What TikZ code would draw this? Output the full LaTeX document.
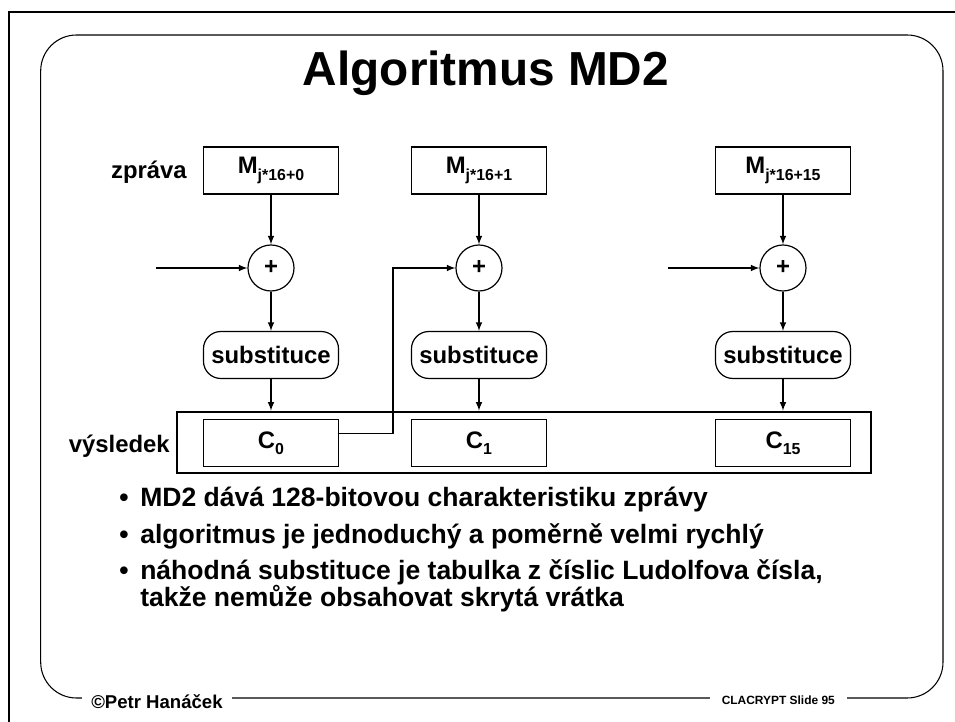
\documentclass[tikz,border=0pt]{standalone}
\usepackage{fontspec}
\setmainfont{Liberation Sans}
\usetikzlibrary{arrows,positioning}
\newcommand{\sbs}[1]{\raisebox{-0.5ex}{\fontsize{12}{12}\selectfont #1}}

\begin{document}
\begin{tikzpicture}[x=0.754pt,y=-0.754pt,font=\bfseries,>=latex]
\tikzstyle{mbox}=[rectangle,draw=black,line width=0.9pt,
minimum width=101.8pt,minimum height=35.4pt,inner sep=0pt,
font=\fontsize{18}{20}\selectfont\bfseries]
\tikzstyle{xorn}=[circle,draw=black,line width=0.9pt,minimum size=34.7pt,
inner sep=0pt,font=\fontsize{18}{20}\selectfont\bfseries]
\tikzstyle{subst}=[mbox,rounded corners=13pt]
\tikzstyle{lbl}=[inner sep=0pt,font=\fontsize{18}{20}\selectfont\bfseries]
\tikzstyle{blt}=[inner sep=0pt,anchor=base west,
font=\fontsize{20}{24}\selectfont\bfseries]
\tikzstyle{flow}=[->,line width=1.2pt]

\useasboundingbox (0,0) rectangle (955,722);
\draw[line width=1.6pt] (9,722) -- (9,12) -- (955,12);
\draw[line width=0.8pt,rounded corners=27pt] (40.7,35) rectangle (943,698);

\node[inner sep=0pt,anchor=base] (title) at (486,86)
 {\fontsize{36}{40}\selectfont Algoritmus MD2};

\node[mbox] (m0) at (271,170.5) {M\sbs{j*16+0}};
\node[mbox] (m1) at (479,170.5) {M\sbs{j*16+1}};
\node[mbox] (m15) at (783,170.5) {M\sbs{j*16+15}};
\node[lbl,anchor=base east] (zpr) at (187,179) {zpráva};

\node[xorn] (x0) at (271,268) {+};
\node[xorn] (x1) at (479,268) {+};
\node[xorn] (x15) at (783,268) {+};

\node[subst] (s0) at (271,355) {substituce};
\node[subst] (s1) at (479,355) {substituce};
\node[subst] (s15) at (783,355) {substituce};

\node[draw=black,line width=2pt,minimum width=523.3pt,minimum height=46pt,
inner sep=0pt] (res) at (524,442.5) {};
\node[mbox] (c0) at (271,443) {C\sbs{0}};
\node[mbox] (c1) at (479,443) {C\sbs{1}};
\node[mbox] (c15) at (783,443) {C\sbs{15}};
\node[lbl,anchor=base east] (vys) at (170,453) {výsledek};

\coordinate (in0) at (156,268);
\coordinate (in15) at (668,268);
\coordinate (fb) at (393,268);

\path[flow] (m0) edge (x0);
\path[flow] (m1) edge (x1);
\path[flow] (m15) edge (x15);
\path[flow] (x0) edge (s0);
\path[flow] (x1) edge (s1);
\path[flow] (x15) edge (s15);
\path[flow] (s0) edge (s0 |- res.north);
\path[flow] (s1) edge (s1 |- res.north);
\path[flow] (s15) edge (s15 |- res.north);
\path[flow] (in0) edge (x0);
\path[flow] (in15) edge (x15);
\draw[flow] (c0.8) -| (fb) -- (x1);

\node[blt] (d1) at (119,506) {•};
\node[blt] (d2) at (119,543) {•};
\node[blt] (d3) at (119,579) {•};
\node[blt] (b1) at (140,506) {MD2 dává 128-bitovou charakteristiku zprávy};
\node[blt] (b2) at (140,543) {algoritmus je jednoduchý a poměrně velmi rychlý};
\node[blt] (b3) at (140,579) {náhodná substituce je tabulka z číslic Ludolfova čísla,};
\node[blt] (b4) at (140,606) {takže nemůže obsahovat skrytá vrátka};

\node[fill=white,inner xsep=6.8pt,inner ysep=1pt,anchor=base west] (auth) at (82,708)
 {\fontsize{14}{16}\selectfont ©Petr Hanáček};
\node[fill=white,inner xsep=9pt,inner ysep=1pt,anchor=base east] (slide) at (847,704)
 {\fontsize{9}{10}\selectfont CLACRYPT Slide 95};
\end{tikzpicture}
\end{document}
